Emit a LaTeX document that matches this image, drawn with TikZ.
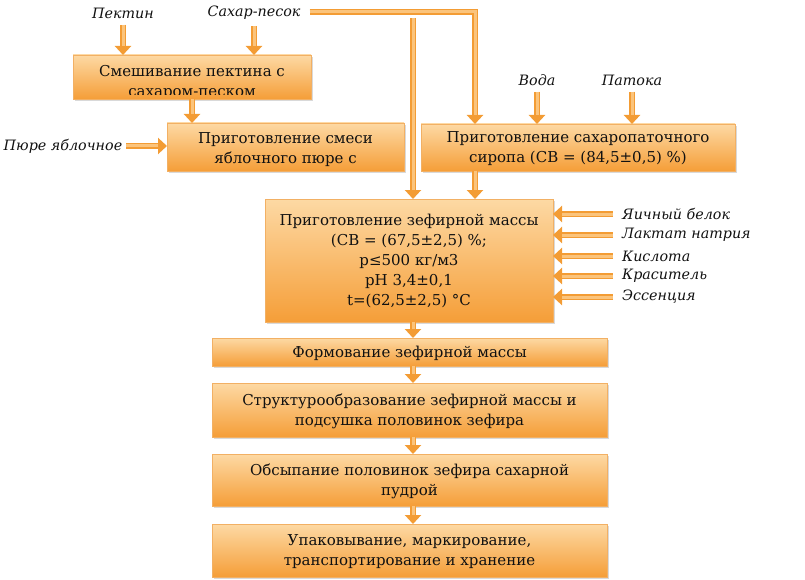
\documentclass[tikz,border=0pt]{standalone}
\usepackage{fontspec}
\setmainfont{DejaVu Serif}
\usetikzlibrary{arrows.meta,shadows}
\definecolor{boxtop}{HTML}{FDD9A4}
\definecolor{boxmid}{HTML}{F9B65E}
\definecolor{boxbot}{HTML}{F59E38}
\definecolor{boxline}{HTML}{F2B064}
\definecolor{arr}{HTML}{F39C34}
\definecolor{arrlight}{HTML}{FBC47C}
\definecolor{ink}{HTML}{111111}
\begin{document}
\begin{tikzpicture}[x=1pt,y=-1pt,
  proc/.style={draw=boxline, line width=0.6pt, top color=boxtop, middle color=boxmid, bottom color=boxbot,
    drop shadow={shadow xshift=1.5pt, shadow yshift=-2pt, opacity=0.3},
    inner sep=0pt, outer sep=0pt},
  boxtext/.style={font=\fontsize{15}{20}\selectfont, text=ink, align=center, inner sep=0pt},
  inlabel/.style={font=\itshape\fontsize{14.3}{17}\selectfont, text=ink, inner sep=1pt},
  flow/.style={draw=arr, line width=6.5pt, line join=miter, -{Triangle[width=16pt,length=9pt]},
    postaction={draw=arrlight, line width=3pt, -, shorten >=9pt}}
]
\useasboundingbox (0,0) rectangle (805,580);

% process boxes
\node[proc, minimum width=238pt, minimum height=44pt] (b1) at (192,77) {};
\begin{scope}
  \clip (b1.north west) rectangle ([yshift=4pt]b1.south east);
  \node[boxtext] (b1t) at (192,82) {Смешивание пектина с\\сахаром-песком};
\end{scope}
\node[proc, minimum width=237pt, minimum height=48pt] (b2) at (285.5,147) {};
\node[boxtext] (b2t) at (285.5,150) {Приготовление смеси\\яблочного пюре с};
\node[proc, minimum width=314pt, minimum height=47pt] (b3) at (578,147.5) {};
\node[boxtext] (b3t) at (578,148.5) {Приготовление сахаропаточного\\сиропа (СВ = (84,5±0,5) \%)};
\node[proc, minimum width=288pt, minimum height=123pt] (b4) at (409,260.5) {};
\node[boxtext] (b4t) at (409,260.5) {Приготовление зефирной массы\\(СВ = (67,5±2,5) \%;\\p≤500 кг/м3\\pH 3,4±0,1\\t=(62,5±2,5) °С};
\node[proc, minimum width=395pt, minimum height=28pt] (b5) at (409.5,352) {};
\node[boxtext] (b5t) at (409.5,353) {Формование зефирной массы};
\node[proc, minimum width=395pt, minimum height=54pt] (b6) at (409.5,410) {};
\node[boxtext] (b6t) at (409.5,411) {Структурообразование зефирной массы и\\подсушка половинок зефира};
\node[proc, minimum width=395pt, minimum height=52pt] (b7) at (409.5,480) {};
\node[boxtext] (b7t) at (409.5,481) {Обсыпание половинок зефира сахарной\\пудрой};
\node[proc, minimum width=395pt, minimum height=53pt] (b8) at (409.5,550.5) {};
\node[boxtext] (b8t) at (409.5,551.5) {Упаковывание, маркирование,\\транспортирование и хранение};

% input labels
\node[inlabel] (pek) at (123,13) {Пектин};
\node[inlabel] (sah) at (254,13) {Сахар-песок};
\node[inlabel] (pur) at (63,146) {Пюре яблочное};
\node[inlabel] (voda) at (537,80) {Вода};
\node[inlabel] (pat) at (632,80) {Патока};
\node[inlabel, anchor=west] (r1) at (621,214) {Яичный белок};
\node[inlabel, anchor=west] (r2) at (621,235) {Лактат натрия};
\node[inlabel, anchor=west] (r3) at (621,256) {Кислота};
\node[inlabel, anchor=west] (r4) at (621,276) {Краситель};
\node[inlabel, anchor=west] (r5) at (621,297) {Эссенция};

\coordinate (corner) at (475,12);
\coordinate (tap) at (413,18);

% connectors
\draw[flow] ([yshift=-5pt]pek.south) -- (pek.south |- b1.north);
\draw[flow] ([yshift=-5pt]sah.south) -- (sah.south |- b1.north);
\draw[flow] (b1.south) -- (b1.south |- b2.north);
\draw[flow] ([xshift=3pt]pur.east) -- (pur.east -| b2.west);
\draw[flow] ([xshift=8pt]sah.east |- corner) -- (corner) -- (corner |- b3.north);
\draw[flow] (tap) -- (tap |- b4.north);
\draw[flow] ([yshift=-5pt]voda.south) -- (voda.south |- b3.north);
\draw[flow] ([yshift=-5pt]pat.south) -- (pat.south |- b3.north);
\draw[flow] (b3.south -| corner) -- (corner |- b4.north);
\foreach \r in {r1,r2,r3,r4,r5}
  \draw[flow] ([xshift=-8pt]\r.west) -- (\r.west -| b4.east);
\draw[flow] (b4.south -| tap) -- (tap |- b5.north);
\draw[flow] (b5.south -| tap) -- (tap |- b6.north);
\draw[flow] (b6.south -| tap) -- (tap |- b7.north);
\draw[flow] (b7.south -| tap) -- (tap |- b8.north);
\end{tikzpicture}
\end{document}
